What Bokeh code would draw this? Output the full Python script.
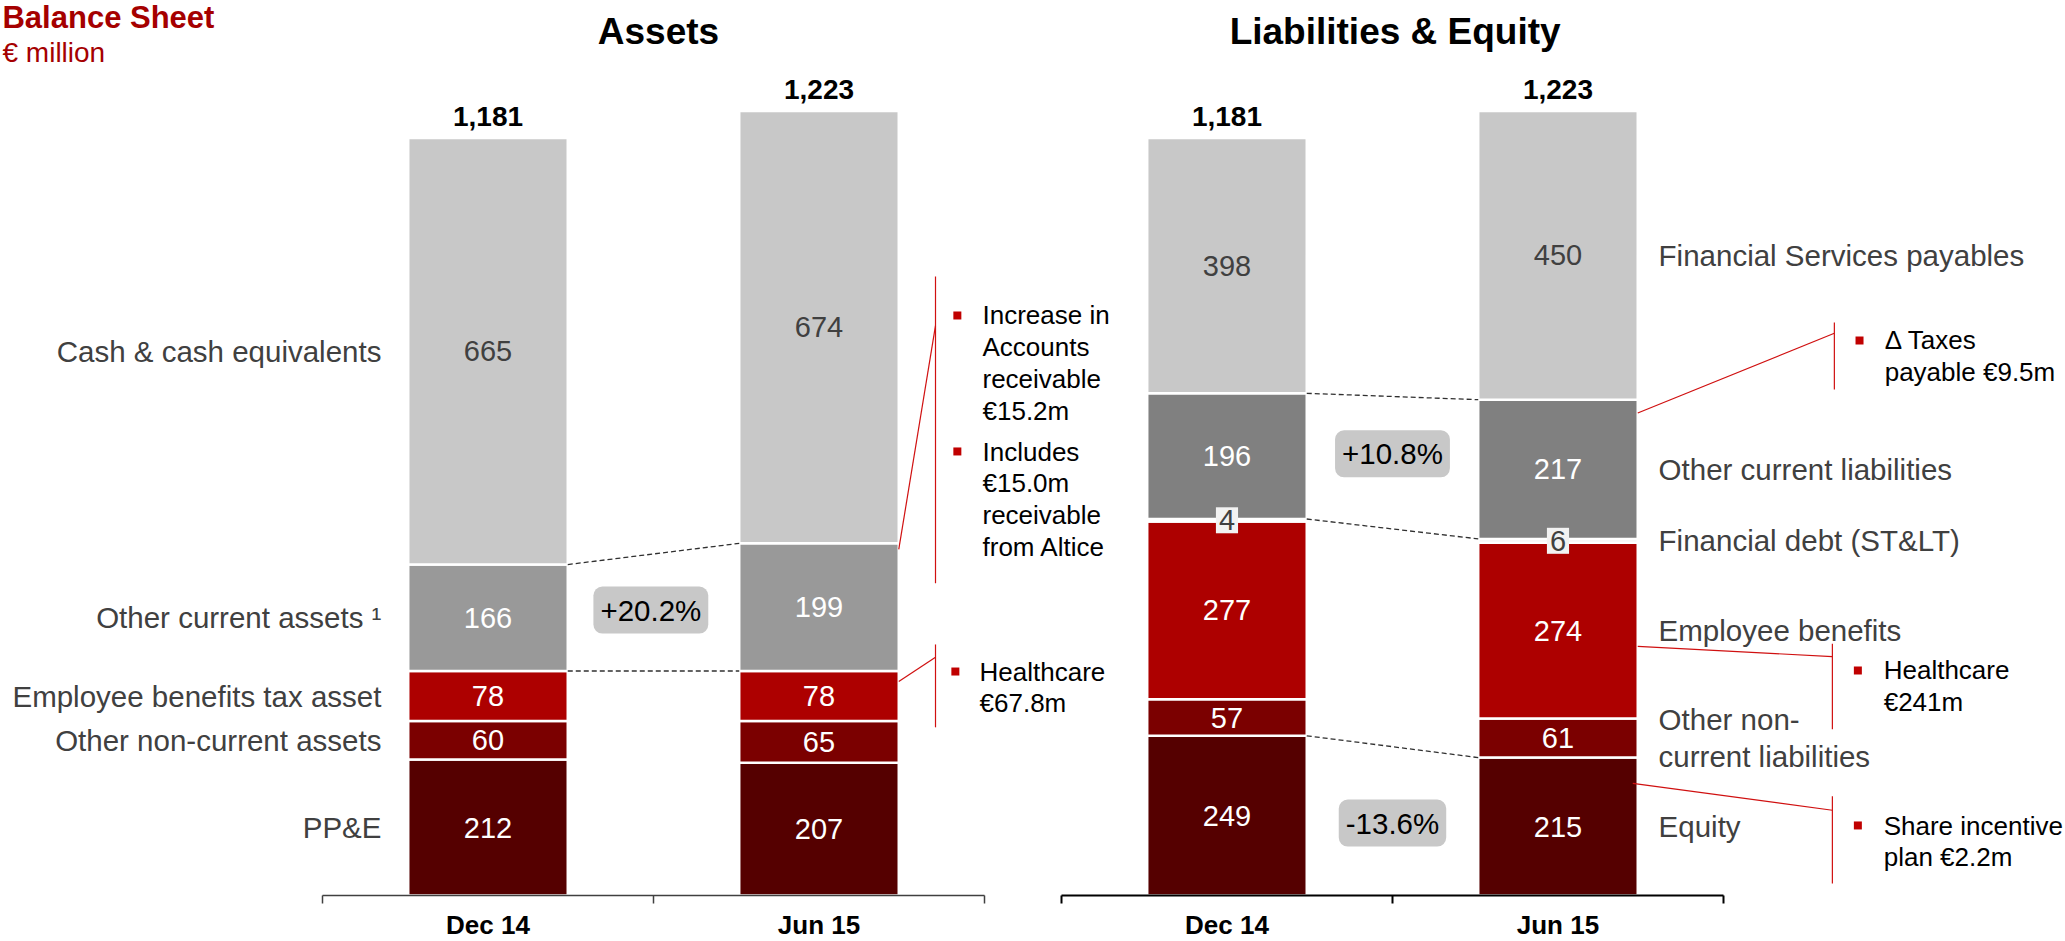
import numpy as np
from bokeh.plotting import figure
from bokeh.models import Range1d, LinearAxis, FixedTicker, ColumnDataSource, Label
from bokeh.core.properties import value
from bokeh.embed import file_html
from bokeh.resources import INLINE

# ---------------- data ----------------
periods = ["Dec 14", "Jun 15"]

asset_items = ["PP&E", "Other non-current assets", "Employee benefits tax asset",
               "Other current assets \u00b9", "Cash & cash equivalents"]
assets_dec14 = [212, 60, 78, 166, 665]
assets_jun15 = [207, 65, 78, 199, 674]

liab_items = ["Equity", "Other non-\ncurrent liabilities", "Employee benefits",
              "Financial debt (ST&LT)", "Other current liabilities", "Financial Services payables"]
liab_dec14 = [249, 57, 277, 4, 196, 398]
liab_jun15 = [215, 61, 274, 6, 217, 450]

asset_change = ["+20.2%"]
liab_change = ["+10.8%", "-13.6%"]

asset_notes = [["Increase in\nAccounts\nreceivable\n\u20ac15.2m", "Includes\n\u20ac15.0m\nreceivable\nfrom Altice"],
               ["Healthcare\n\u20ac67.8m"]]
liab_notes = [["\u0394 Taxes\npayable \u20ac9.5m"], ["Healthcare\n\u20ac241m"], ["Share incentive\nplan \u20ac2.2m"]]

# ---------------- styling ----------------
FONT = "Liberation Sans"
asset_colors = ["#550000", "#7B0000", "#AD0000", "#999999", "#C8C8C8"]
liab_colors = ["#550000", "#7B0000", "#AD0000", "#F2F2F2", "#808080", "#C8C8C8"]
RED = "#A50000"
LINE_RED = "#D01010"
BAR_W = 0.482
XA, XL = 0.0, 2.2326   # left edges of the two charts (category units)

p = figure(width=2065, height=941, output_backend="svg", toolbar_location=None,
           x_axis_type=None, y_axis_type=None, min_border=0,
           x_range=Range1d(-0.9728, 5.2659), y_range=Range1d(-71.72, 1395.4))
p.outline_line_color = None
p.background_fill_color = "white"


def fnt(size, style="normal"):
    return dict(text_font=value(FONT), text_font_size=size, text_font_style=style)


seg = dict(x=[], bottom=[], top=[], color=[])
vals_txt = dict(x=[], y=[], t=[], c=[])
small = []
tops = dict(x=[], y=[], t=[])
cums = {}

for x0, items, series, colors, dark_idx in [
        (XA, asset_items, [assets_dec14, assets_jun15], asset_colors, 4),
        (XL, liab_items, [liab_dec14, liab_jun15], liab_colors, 5)]:
    for j, vals in enumerate(series):
        cx = x0 + 0.5 + j
        cum = np.concatenate([[0], np.cumsum(vals)])
        cums[(x0, j)] = cum
        for i, v in enumerate(vals):
            seg["x"].append(cx)
            seg["bottom"].append(cum[i])
            seg["top"].append(cum[i + 1])
            seg["color"].append(colors[i])
            mid = (cum[i] + cum[i + 1]) / 2
            if v >= 20:
                vals_txt["x"].append(cx)
                vals_txt["y"].append(mid)
                vals_txt["t"].append(str(v))
                vals_txt["c"].append("#404040" if i == dark_idx else "white")
            else:
                small.append((cx, mid, str(v)))
        tops["x"].append(cx)
        tops["y"].append(cum[-1] + 33)
        tops["t"].append(f"{int(cum[-1]):,}")

p.vbar(x="x", bottom="bottom", top="top", width=BAR_W, fill_color="color",
       line_color="white", line_width=2.5, source=ColumnDataSource(seg))

p.text(x="x", y="y", text="t", text_color="c", text_align="center", text_baseline="middle",
       source=ColumnDataSource(vals_txt), **fnt("29px"))
p.text(x="x", y="y", text="t", text_color="black", text_align="center", text_baseline="middle",
       source=ColumnDataSource(tops), **fnt("28px", "bold"))

for cx, mid, t in small:
    p.add_layout(Label(x=cx, y=mid, text=t, text_align="center", text_baseline="middle",
                       text_color="#404040", text_font=FONT, text_font_size="29px",
                       background_fill_color="#F2F2F2", padding=3))

# dashed connectors between the bars
con = dict(x0=[], y0=[], x1=[], y1=[])
for x0, idx in [(XA, [3, 4]), (XL, [1, 4, 5])]:
    for k in idx:
        con["x0"].append(x0 + 0.5 + BAR_W / 2)
        con["y0"].append(cums[(x0, 0)][k])
        con["x1"].append(x0 + 1.5 - BAR_W / 2)
        con["y1"].append(cums[(x0, 1)][k])
p.segment(x0="x0", y0="y0", x1="x1", y1="y1", line_color="#303030", line_width=1.3,
          line_dash="5 3", source=ColumnDataSource(con))

# change boxes
for x, y, t in [(XA + 0.992, 445, asset_change[0]), (XL + 1.0, 688.6, liab_change[0]),
                (XL + 1.0, 113, liab_change[1])]:
    p.add_layout(Label(x=x, y=y, text=t, text_align="center", text_baseline="middle",
                       text_color="black", text_font=FONT, text_font_size="29.5px",
                       background_fill_color="#C8C8C8", border_radius=9, padding=7))

# category labels
la = dict(x=[], y=[], t=[])
c0 = cums[(XA, 0)]
for i, it in enumerate(asset_items):
    la["x"].append(XA + 0.178)
    la["y"].append((c0[i] + c0[i + 1]) / 2)
    la["t"].append(it)
p.text(x="x", y="y", text="t", text_color="#404040", text_align="right", text_baseline="middle",
       source=ColumnDataSource(la), **fnt("29.5px"))

ll = dict(x=[], y=[], t=[])
c1 = cums[(XL, 1)]
for i, it in enumerate(liab_items):
    ll["x"].append(XL + 1.804)
    ll["y"].append((c1[i] + c1[i + 1]) / 2)
    ll["t"].append(it)
p.text(x="x", y="y", text="t", text_color="#404040", text_align="left", text_baseline="middle",
       text_line_height=1.13, source=ColumnDataSource(ll), **fnt("29.5px"))

# titles
p.text(x=[XA + 1.015, XL + 1.008], y=[1347, 1347], text=["Assets", "Liabilities & Equity"],
       text_color="black", text_align="center", text_baseline="middle", **fnt("37px", "bold"))
p.text(x=[-0.9668], y=[1368.9], text=["Balance Sheet"], text_color=RED, text_align="left",
       text_baseline="middle", **fnt("31px", "bold"))
p.text(x=[-0.9668], y=[1314.3], text=["\u20ac million"], text_color=RED, text_align="left",
       text_baseline="middle", **fnt("28px"))

# callouts: (anchor x, anchor value, bracket x, elbow value, bracket top, bracket bottom,
#            bullet x, text x, [(note, bullet value, text-top value)])
callouts = [
    (XA + 1.5 + BAR_W / 2, 539.5, XA + 1.852, 888.4, 965.0, 486.8, XA + 1.918, XA + 1.994,
     [(asset_notes[0][0], 904.3, 927.7), (asset_notes[0][1], 692.3, 715.6)]),
    (XA + 1.5 + BAR_W / 2, 333.7, XA + 1.852, 371.5, 391.4, 262.2, XA + 1.912, XA + 1.985,
     [(asset_notes[1][0], 349.2, 372.6)]),
    (XL + 1.5 + BAR_W / 2, 752.2, XL + 2.335, 876.5, 893.4, 789.0, XL + 2.411, XL + 2.487,
     [(liab_notes[0][0], 865.3, 888.7)]),
    (XL + 1.5 + BAR_W / 2, 388.4, XL + 2.329, 372.5, 392.4, 259.2, XL + 2.406, XL + 2.484,
     [(liab_notes[1][0], 350.8, 374.2)]),
    (XL + 1.5 + BAR_W / 2 - 0.015, 174.7, XL + 2.329, 132.9, 154.8, 18.6, XL + 2.406, XL + 2.484,
     [(liab_notes[2][0], 109.2, 132.5)]),
]
cl = dict(x0=[], y0=[], x1=[], y1=[])
bl = dict(x=[], y=[])
nt = dict(x=[], y=[], t=[])
for ax_, av, bx, ev, bt, bb, bux, tx, notes in callouts:
    cl["x0"] += [ax_, bx]
    cl["y0"] += [av, bt]
    cl["x1"] += [bx, bx]
    cl["y1"] += [ev, bb]
    for note, bv, tv in notes:
        bl["x"].append(bux)
        bl["y"].append(bv)
        nt["x"].append(tx)
        nt["y"].append(tv)
        nt["t"].append(note)
p.segment(x0="x0", y0="y0", x1="x1", y1="y1", line_color=LINE_RED, line_width=1.2,
          source=ColumnDataSource(cl))
p.scatter(x="x", y="y", marker="square", size=8, fill_color="#C00000", line_color=None,
          source=ColumnDataSource(bl))
p.text(x="x", y="y", text="t", text_color="black", text_align="left", text_baseline="top",
       text_line_height=1.06, source=ColumnDataSource(nt), **fnt("26px"))

# x axes (one per chart)
for x0, col, lw in [(XA, "#404040", 1.5), (XL, "black", 2)]:
    ticks = [x0 + 0.5, x0 + 1.5]
    ax = LinearAxis(fixed_location=0, bounds=(x0, x0 + 2),
                    ticker=FixedTicker(ticks=ticks, minor_ticks=[x0, x0 + 1, x0 + 2]),
                    major_label_overrides={ticks[0]: periods[0], ticks[1]: periods[1]},
                    axis_line_color=col, axis_line_width=lw,
                    major_tick_line_color=None, major_tick_in=0, major_tick_out=0,
                    minor_tick_line_color=col, minor_tick_line_width=lw,
                    minor_tick_in=0, minor_tick_out=8,
                    major_label_standoff=7, major_label_text_font=FONT,
                    major_label_text_font_style="bold", major_label_text_font_size="26px",
                    major_label_text_color="black")
    p.add_layout(ax, "below")

open("out.html", "w").write(file_html(p, INLINE))
